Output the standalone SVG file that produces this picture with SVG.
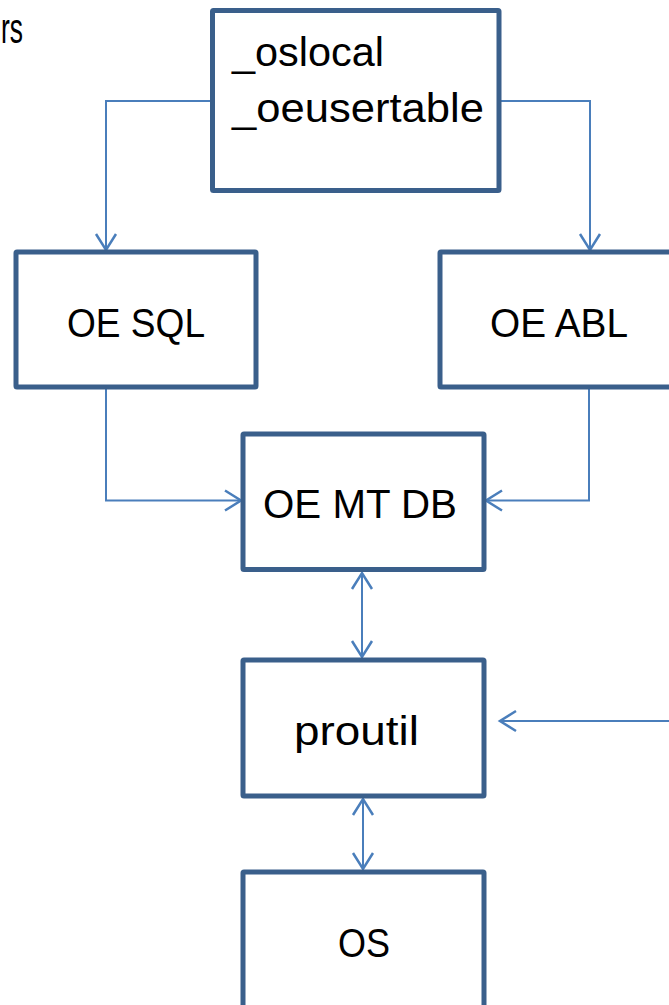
<svg xmlns="http://www.w3.org/2000/svg" width="669" height="1005" viewBox="0 0 669 1005">
  <style>
    .box { fill: #ffffff; stroke: #3A5F8B; stroke-width: 5; }
    .lbl { font-family: "Liberation Sans", Arial, sans-serif; font-size: 41px; fill: #000000; }
    .conn { fill: none; stroke: #4A7EBB; stroke-width: 2; }
  </style>
  <defs>
    <marker id="arr" markerUnits="userSpaceOnUse" markerWidth="24" markerHeight="24" viewBox="-20 -12 24 24" refX="0" refY="0" orient="auto-start-reverse">
      <path d="M-16,-10 L0,0 L-16,10" fill="none" stroke="#4A7EBB" stroke-width="2.5"/>
    </marker>
  </defs>
  <rect width="669" height="1005" fill="#ffffff"/>

  <text class="lbl" x="1" y="43" textLength="22" lengthAdjust="spacingAndGlyphs" style="font-size:42px">rs</text>

  <g id="connectors">
    <path class="conn" d="M212,101 H106 V250" marker-end="url(#arr)"/>
    <path class="conn" d="M499,101 H590 V250" marker-end="url(#arr)"/>
    <path class="conn" d="M106,387 V500.5 H241" marker-end="url(#arr)"/>
    <path class="conn" d="M589,387 V500.5 H486" marker-end="url(#arr)"/>
    <path class="conn" d="M362,573 V657" marker-start="url(#arr)" marker-end="url(#arr)"/>
    <path class="conn" d="M669,721 H500" marker-end="url(#arr)"/>
    <path class="conn" d="M363,799 V869" marker-start="url(#arr)" marker-end="url(#arr)"/>
  </g>

  <g id="node-tables">
    <rect class="box" x="212.5" y="10.5" width="286.5" height="180" rx="1"/>
    <text class="lbl" x="232" y="66" textLength="152" lengthAdjust="spacingAndGlyphs">_oslocal</text>
    <text class="lbl" x="232" y="122" textLength="252" lengthAdjust="spacingAndGlyphs">_oeusertable</text>
  </g>

  <g id="node-oesql">
    <rect class="box" x="16" y="252" width="240" height="135" rx="1"/>
    <text class="lbl" x="67" y="337" textLength="138" lengthAdjust="spacingAndGlyphs">OE SQL</text>
  </g>

  <g id="node-oeabl">
    <rect class="box" x="440" y="252" width="280" height="135" rx="1"/>
    <text class="lbl" x="490" y="337" textLength="138" lengthAdjust="spacingAndGlyphs">OE ABL</text>
  </g>

  <g id="node-oemtdb">
    <rect class="box" x="243" y="434" width="241" height="135.5" rx="1"/>
    <text class="lbl" x="263" y="518" textLength="194" lengthAdjust="spacingAndGlyphs">OE MT DB</text>
  </g>

  <g id="node-proutil">
    <rect class="box" x="243" y="660" width="241" height="136" rx="1"/>
    <text class="lbl" x="294" y="745" textLength="125" lengthAdjust="spacingAndGlyphs">proutil</text>
  </g>

  <g id="node-os">
    <rect class="box" x="243" y="872" width="241" height="200" rx="1"/>
    <text class="lbl" x="338" y="957" textLength="52" lengthAdjust="spacingAndGlyphs">OS</text>
  </g>
</svg>
